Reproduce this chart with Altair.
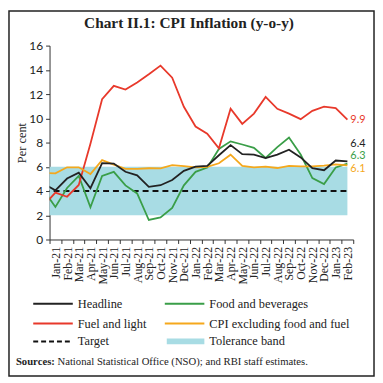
import json
import altair as alt
import pandas as pd

# ---------------- data ----------------
months = ["Dec-20",
          "Jan-21", "Feb-21", "Mar-21", "Apr-21", "May-21", "Jun-21", "Jul-21", "Aug-21",
          "Sep-21", "Oct-21", "Nov-21", "Dec-21", "Jan-22", "Feb-22", "Mar-22", "Apr-22",
          "May-22", "Jun-22", "Jul-22", "Aug-22", "Sep-22", "Oct-22", "Nov-22", "Dec-22",
          "Jan-23", "Feb-23"]
axis_months = months[1:]

headline = [4.59, 4.06, 5.03, 5.52, 4.23, 6.30, 6.26, 5.59, 5.30, 4.35, 4.48, 4.91, 5.66,
            6.01, 6.07, 6.95, 7.79, 7.04, 7.01, 6.71, 7.00, 7.41, 6.77, 5.88, 5.72, 6.52, 6.44]
food_bev = [4.05, 2.69, 4.25, 5.24, 2.66, 5.24, 5.58, 4.46, 3.80, 1.61, 1.82, 2.60, 4.47,
            5.58, 5.93, 7.47, 8.10, 7.84, 7.56, 6.73, 7.62, 8.41, 7.01, 5.07, 4.58, 5.95, 6.26]
fuel_light = [2.80, 3.87, 3.53, 4.50, 7.91, 11.58, 12.68, 12.38, 12.95, 13.63, 14.35, 13.35, 10.95,
              9.32, 8.73, 7.52, 10.80, 9.54, 10.39, 11.76, 10.78, 10.39, 9.93, 10.62, 10.97, 10.84, 9.90]
core = [5.50, 5.46, 5.96, 5.96, 5.40, 6.55, 6.18, 5.83, 5.82, 5.88, 5.87, 6.13, 6.06,
        5.96, 5.99, 6.29, 7.00, 6.08, 5.96, 6.01, 5.90, 6.07, 6.04, 6.03, 6.09, 6.20, 6.11]
target_value = 4
band_low = 2
band_high = 6

series_names = ["Headline", "Food and beverages", "Fuel and light",
                "CPI excluding food and fuel", "Target", "Tolerance band"]
series_colors = ["#222222", "#3a9e48", "#e8392b", "#f5a81c", "#111111", "#a8dce4"]

title_text = "Chart II.1: CPI Inflation (y-o-y)"
y_title = "Per cent"
source_bold = "Sources:"
source_text = "National Statistical Office (NSO); and RBI staff estimates."

# ---------------- tables ----------------
idx = list(range(-1, len(months) - 1))
rows = []
for name, vals in [("Food and beverages", food_bev), ("Fuel and light", fuel_light),
                   ("CPI excluding food and fuel", core), ("Headline", headline)]:
    for i, m, v in zip(idx, months, vals):
        rows.append({"i": i, "month": m, "series": name, "value": v})
df = pd.DataFrame(rows)
band_df = pd.DataFrame({"i": idx, "lo": [band_low] * len(idx), "hi": [band_high] * len(idx),
                        "t": [target_value] * len(idx)})
last = df[df["i"] == idx[-1]].copy()
last["label"] = last["value"].map(lambda v: f"{v:.1f}")

W, H = 307, 196
SERIF = "Liberation Serif"
SANS = "Lato"

xscale = alt.Scale(domain=[-0.5, 25.5], nice=False, zero=False)
yscale = alt.Scale(domain=[0, 16], nice=False)
color_scale = alt.Scale(domain=series_names, range=series_colors)

label_expr = ("datum.value < 25 ? " + json.dumps(axis_months) +
              "[round(datum.value + 0.5)] : ''")
x_axis = alt.Axis(values=[k - 0.5 for k in range(27)], labelExpr=label_expr,
                  labelOffset=W / 26 / 2, labelAngle=270, labelAlign="right",
                  labelBaseline="middle", labelFont=SERIF, labelFontSize=12,
                  labelColor="#222", labelOverlap=False, labelBound=False,
                  labelPadding=3, tickSize=4, tickColor="#333", domainColor="#333",
                  grid=False, title=None)
y_axis = alt.Axis(values=list(range(0, 17, 2)), labelFont=SANS, labelFontSize=12,
                  labelColor="#222", tickSize=4, tickColor="#333", domainColor="#333",
                  grid=False, labelPadding=3, labelOverlap=False, title=y_title,
                  titleFont=SERIF, titleFontSize=12.5, titleFontWeight="normal",
                  titleColor="#222", titleAngle=270, titleX=-28, titleY=H / 2,
                  titleAlign="center", titleBaseline="middle")


def xe(field="i:Q"):
    return alt.X(field, scale=xscale, axis=x_axis)


def ye(field):
    return alt.Y(field, scale=yscale, axis=y_axis)


band = alt.Chart(band_df).mark_area(color="#a8dce4", clip=True).encode(
    x=xe(), y=ye("lo:Q"), y2="hi:Q")
target = alt.Chart(band_df).mark_line(color="#111", strokeDash=[6, 4], strokeWidth=2,
                                      clip=True).encode(x=xe(), y=ye("t:Q"))

lines = alt.Chart(df).mark_line(strokeWidth=1.8, clip=True).encode(
    x=xe(),
    y=ye("value:Q"),
    color=alt.Color("series:N", scale=color_scale, legend=None),
    order=alt.Order("i:Q"),
)

label_dy = {"Headline": -17.5, "Food and beverages": -8, "Fuel and light": 0.5,
            "CPI excluding food and fuel": 3.5}
end_labels = []
for name, dy in label_dy.items():
    end_labels.append(
        alt.Chart(last[last["series"] == name]).mark_text(
            align="left", baseline="middle", dx=3, dy=dy, font=SANS, fontSize=11
        ).encode(x=xe(), y=ye("value:Q"), text="label:N",
                 color=alt.Color("series:N", scale=color_scale, legend=None))
    )

# ---------------- decorations: title, legend, sources, frame ----------------
deco = []
deco.append(alt.Chart(pd.DataFrame({"t": [title_text]})).mark_text(
    font=SERIF, fontSize=15.5, fontWeight="bold", align="center", baseline="alphabetic",
    color="#222").encode(x=alt.value(141), y=alt.value(-18), text="t:N"))

col_x = [-16.5, 116.5]
row_y = [261, 281, 299]
for k, (name, colr) in enumerate(zip(series_names, series_colors)):
    cx = col_x[k % 2]
    ry = row_y[k // 2]
    props = dict(color=colr, strokeWidth=2)
    if name == "Target":
        props["strokeDash"] = [5, 3]
    if name == "Tolerance band":
        props["strokeWidth"] = 6
        sx = cx + 2
    else:
        sx = cx
    leg_df = pd.DataFrame({"name": [name]})
    deco.append(alt.Chart(leg_df).mark_rule(**props).encode(
        x=alt.value(sx), x2=alt.value(cx + 40), y=alt.value(ry)))
    deco.append(alt.Chart(leg_df).mark_text(
        font=SERIF, fontSize=12.5, align="left", baseline="middle", color="#222").encode(
        x=alt.value(cx + 45), y=alt.value(ry), text="name:N"))

src_df = pd.DataFrame({"a": [source_bold], "b": [source_text]})
deco.append(alt.Chart(src_df).mark_text(
    font=SERIF, fontSize=10.8, fontWeight="bold", align="left", baseline="alphabetic",
    color="#222").encode(x=alt.value(-34), y=alt.value(323), text="a:N"))
deco.append(alt.Chart(src_df).mark_text(
    font=SERIF, fontSize=10.8, align="left", baseline="alphabetic",
    color="#222").encode(x=alt.value(8), y=alt.value(323), text="b:N"))

frame_df = pd.DataFrame({"f": [1]})
deco.append(alt.Chart(frame_df).mark_rect(fill=None, stroke="#222", strokeWidth=1.5).encode(
    x=alt.value(-41), x2=alt.value(328), y=alt.value(-35), y2=alt.value(334)))

chart = alt.layer(band, target, lines, *end_labels, *deco).properties(
    width=W, height=H,
    autosize=alt.AutoSizeParams(type="none"),
    padding={"left": 42, "top": 36, "right": 22, "bottom": 139},
    background="white",
).configure_view(stroke=None).configure_axis(labelOverlap=False)

chart.save("out.html", embed_options={"renderer": "svg", "actions": False})
